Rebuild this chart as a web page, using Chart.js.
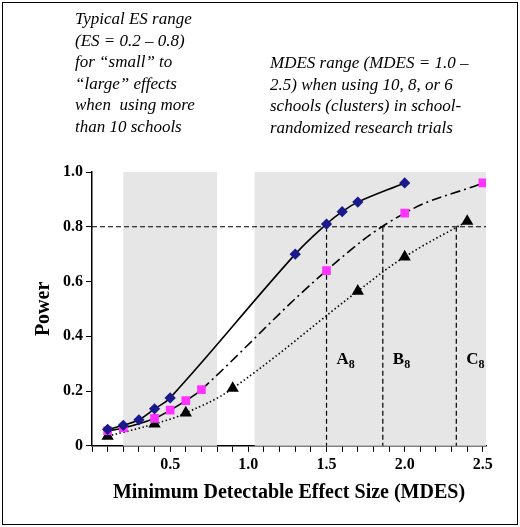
<!DOCTYPE html>
<html>
<head>
<meta charset="utf-8">
<script src="https://cdn.jsdelivr.net/npm/chart.js@4"></script>
<style>
  body { margin: 0; background: #fff; }
  #wrap { position: relative; width: 520px; height: 527px; }
  #frame { position: absolute; left: 2px; top: 2px; width: 514px; height: 521px; border: 1px solid #000; pointer-events: none; }
  .note { position: absolute; font-family: "Liberation Serif", serif; font-style: italic; font-size: 17px; line-height: 21.5px; color: #000; }
</style>
</head>
<body>
<div id="wrap">
  <canvas id="chart" width="520" height="527"></canvas>
  <div class="note" style="left:75px; top:8px; width:190px;">Typical ES range<br>(ES = 0.2 – 0.8)<br>for “small” to<br>“large” effects<br>when &nbsp;using more<br>than 10 schools</div>
  <div class="note" style="left:270px; top:52px; width:245px;">MDES range (MDES = 1.0 –<br>2.5) when using 10, 8, or 6<br>schools (clusters) in school-<br>randomized research trials</div>
  <div id="frame"></div>
</div>
<script>
const xA = [0.1, 0.2, 0.3, 0.4, 0.5, 1.3, 1.5, 1.6, 1.7, 2.0];
const yA = [0.06, 0.075, 0.095, 0.135, 0.175, 0.70, 0.81, 0.855, 0.89, 0.96];
const xB = [0.1, 0.2, 0.4, 0.5, 0.6, 0.7, 1.5, 2.0, 2.5];
const yB = [0.055, 0.065, 0.10, 0.13, 0.165, 0.205, 0.64, 0.85, 0.96];
const xC = [0.1, 0.4, 0.6, 0.9, 1.7, 2.0, 2.4];
const yC = [0.035, 0.08, 0.12, 0.21, 0.565, 0.69, 0.82];
const bands = [[0.2, 0.8], [1.04, 2.52]];
const cutoffs = [1.5, 1.86, 2.33];
const cutLabels = ["A", "B", "C"];
const powerLine = 0.8;

const pts = (xs, ys) => xs.map((x, i) => ({ x: x, y: ys[i] }));

const extras = {
  id: "extras",
  beforeDatasetsDraw(chart) {
    const { ctx, chartArea: a, scales: { x, y } } = chart;
    ctx.save();
    ctx.fillStyle = "#e6e6e6";
    bands.forEach(([s, e]) => ctx.fillRect(x.getPixelForValue(s), a.top, x.getPixelForValue(e) - x.getPixelForValue(s), a.bottom - a.top));
    ctx.strokeStyle = "#000";
    ctx.lineWidth = 1.2;
    ctx.setLineDash([5, 3]);
    const py = y.getPixelForValue(powerLine);
    ctx.beginPath();
    ctx.moveTo(a.left, py); ctx.lineTo(a.right, py);
    cutoffs.forEach((c) => { const px = x.getPixelForValue(c); ctx.moveTo(px, py); ctx.lineTo(px, a.bottom); });
    ctx.stroke();
    ctx.setLineDash([]);
    ctx.fillStyle = "#000";
    cutoffs.forEach((c, i) => {
      const px = x.getPixelForValue(c) + 10;
      const ly = y.getPixelForValue(0.3);
      ctx.font = "bold 17px 'Liberation Serif'";
      ctx.fillText(cutLabels[i], px, ly);
      const w = ctx.measureText(cutLabels[i]).width;
      ctx.font = "bold 12px 'Liberation Serif'";
      ctx.fillText("8", px + w, ly + 4);
    });
    ctx.restore();
  },
};

new Chart(document.getElementById("chart"), {
  type: "scatter",
  data: {
    datasets: [
      { data: pts(xA, yA), showLine: true, tension: 0.4, borderColor: "#000", borderWidth: 1.6,
        pointStyle: "rectRot", pointRadius: 4.5, pointBackgroundColor: "#1a1a8c", pointBorderColor: "#1a1a8c" },
      { data: pts(xB, yB), showLine: true, tension: 0.4, borderColor: "#000", borderWidth: 1.6,
        segment: { borderDash: (c) => (c.p0.parsed.x >= 0.7 ? [10, 4, 2, 4] : undefined) },
        pointStyle: "rect", pointRadius: 5, pointBackgroundColor: "#ff33ff", pointBorderColor: "#ff33ff" },
      { data: pts(xC, yC), showLine: true, tension: 0.4, borderColor: "#000", borderWidth: 1.6, borderDash: [1.5, 2.5],
        pointStyle: "triangle", pointRadius: 5.5, pointBackgroundColor: "#000", pointBorderColor: "#000" },
    ],
  },
  options: {
    responsive: false,
    animation: false,
    layout: { padding: { top: 172, right: 34, left: 28, bottom: 18 } },
    plugins: { legend: { display: false }, tooltip: { enabled: false } },
    scales: {
      x: {
        type: "linear", min: 0, max: 2.52,
        afterBuildTicks: (s) => { s.ticks = []; for (let i = 0; i <= 25; i++) s.ticks.push({ value: i / 10 }); },
        ticks: { autoSkip: false, maxRotation: 0, color: "#000", font: { family: "Liberation Serif", weight: "bold", size: 16 },
          callback: (v) => { const k = Math.round(v * 10); return k > 0 && k % 5 === 0 ? (k / 10).toFixed(1) : ""; } },
        grid: { drawOnChartArea: false, color: "#000", tickLength: 6 },
        border: { color: "#000", width: 1.5 },
        title: { display: true, text: "Minimum Detectable Effect Size (MDES)", color: "#000",
          font: { family: "Liberation Serif", weight: "bold", size: 20 } },
      },
      y: {
        min: 0, max: 1,
        ticks: { stepSize: 0.2, color: "#000", font: { family: "Liberation Serif", weight: "bold", size: 16 },
          callback: (v) => (v === 0 ? "0" : v.toFixed(1)) },
        grid: { drawOnChartArea: false, color: "#000", tickLength: 6 },
        border: { color: "#000", width: 1.5 },
        title: { display: true, text: "Power", color: "#000",
          font: { family: "Liberation Serif", weight: "bold", size: 20 } },
      },
    },
  },
  plugins: [extras],
});
</script>
</body>
</html>
